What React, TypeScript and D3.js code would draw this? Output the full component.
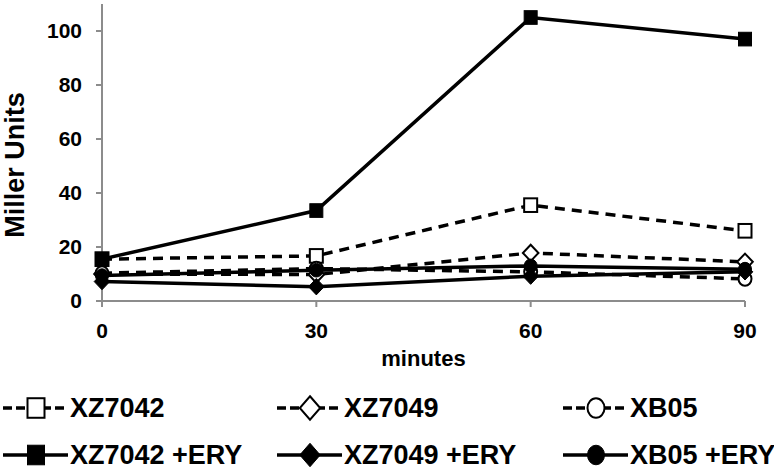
import * as d3 from 'd3';

const minutes = [0, 30, 60, 90];
const seriesNames = ['XZ7042', 'XZ7049', 'XB05', 'XZ7042 +ERY', 'XZ7049 +ERY', 'XB05 +ERY'];
const xz7042 = [15.5, 16.7, 35.5, 26];
const xz7049 = [10, 9.8, 17.8, 14.5];
const xb05 = [10.3, 12, 10.8, 8.2];
const xz7042Ery = [15.5, 33.5, 105, 97];
const xz7049Ery = [7.2, 5.3, 9.2, 10.8];
const xb05Ery = [9.4, 11.4, 13, 11.8];
const yTicks = [0, 20, 40, 60, 80, 100];

type Marker = 'square' | 'diamond' | 'circle';

const series = [
  { name: seriesNames[0], values: xz7042, marker: 'square' as Marker, filled: false, dashed: true },
  { name: seriesNames[1], values: xz7049, marker: 'diamond' as Marker, filled: false, dashed: true },
  { name: seriesNames[2], values: xb05, marker: 'circle' as Marker, filled: false, dashed: true },
  { name: seriesNames[3], values: xz7042Ery, marker: 'square' as Marker, filled: true, dashed: false },
  { name: seriesNames[4], values: xz7049Ery, marker: 'diamond' as Marker, filled: true, dashed: false },
  { name: seriesNames[5], values: xb05Ery, marker: 'circle' as Marker, filled: true, dashed: false },
];

const font = '"Liberation Sans", Arial, sans-serif';
const axisColor = '#8c8c8c';

function MarkerShape({ type, filled, cx, cy, size, sy = 1 }: { type: Marker; filled: boolean; cx: number; cy: number; size: number; sy?: number }) {
  const fill = filled ? '#000' : '#fff';
  const sw = filled ? 1 : 2;
  const h = size / 2;
  const v = h * sy;
  if (type === 'square') {
    return <rect x={cx - h} y={cy - v} width={size} height={2 * v} fill={fill} stroke="#000" strokeWidth={sw} />;
  }
  if (type === 'diamond') {
    const r = h * 1.2;
    const rv = v * 1.2;
    return <path d={`M${cx},${cy - rv}L${cx + r},${cy}L${cx},${cy + rv}L${cx - r},${cy}Z`} fill={fill} stroke="#000" strokeWidth={sw} />;
  }
  return <ellipse cx={cx} cy={cy} rx={h} ry={v} fill={fill} stroke="#000" strokeWidth={sw} />;
}

export default function App() {
  const width = 774;
  const height = 472;
  const margin = { left: 102, right: 29, top: 4, bottom: 171 };

  const x = d3.scaleLinear().domain([0, 90]).range([margin.left, width - margin.right]);
  const y = d3.scaleLinear().domain([0, 110]).range([height - margin.bottom, margin.top]);

  const line = d3.line<number>()
    .x((_, i) => x(minutes[i]))
    .y(d => y(d));

  const legendCols = [3, 277, 563];
  const legendRows = [408, 455];

  return (
    <svg width={width} height={height} style={{ position: 'absolute', left: 0, top: 0, background: '#fff' }} fontFamily={font} fontWeight="bold">
      {/* axes */}
      <line x1={x(0)} x2={x(0)} y1={margin.top} y2={y(0)} stroke={axisColor} strokeWidth={2} />
      <line x1={x(0)} x2={x(90)} y1={y(0)} y2={y(0)} stroke={axisColor} strokeWidth={2} />
      {yTicks.map(t => (
        <g key={'y' + t}>
          <line x1={x(0) - 6} x2={x(0)} y1={y(t)} y2={y(t)} stroke={axisColor} strokeWidth={2} />
          <text x={x(0) - 20} y={y(t)} dy="0.35em" textAnchor="end" fontSize={21}>{t}</text>
        </g>
      ))}
      {minutes.map(m => (
        <g key={'x' + m}>
          <line x1={x(m)} x2={x(m)} y1={y(0)} y2={y(0) + 6} stroke={axisColor} strokeWidth={2} />
          <text x={x(m)} y={y(0) + 30} dy="0.35em" textAnchor="middle" fontSize={21}>{m}</text>
        </g>
      ))}
      <text x={(x(0) + x(90)) / 2} y={358} dy="0.35em" textAnchor="middle" fontSize={22}>minutes</text>
      <text transform="translate(15,165) rotate(-90)" dy="0.35em" textAnchor="middle" fontSize={27}>Miller Units</text>

      {/* series */}
      {series.map(s => (
        <g key={s.name}>
          <path d={line(s.values) || ''} fill="none" stroke="#000" strokeWidth={3.5}
            strokeDasharray={s.dashed ? '10,7' : undefined} />
          {s.values.map((v, i) => (
            <MarkerShape key={i} type={s.marker} filled={s.filled} cx={x(minutes[i])} cy={y(v)} size={13} sy={1.05} />
          ))}
        </g>
      ))}

      {/* legend */}
      {series.map((s, i) => {
        const lx = legendCols[i % 3];
        const ly = legendRows[Math.floor(i / 3)];
        return (
          <g key={'leg' + s.name}>
            <line x1={lx} x2={lx + 65} y1={ly} y2={ly} stroke="#000" strokeWidth={3.5}
              strokeDasharray={s.dashed ? '9,4' : undefined} />
            <MarkerShape type={s.marker} filled={s.filled} cx={lx + 33} cy={ly} size={17} sy={1.15} />
            <text x={lx + 67} y={ly} dy="0.35em" fontSize={27}>{s.name}</text>
          </g>
        );
      })}
    </svg>
  );
}
